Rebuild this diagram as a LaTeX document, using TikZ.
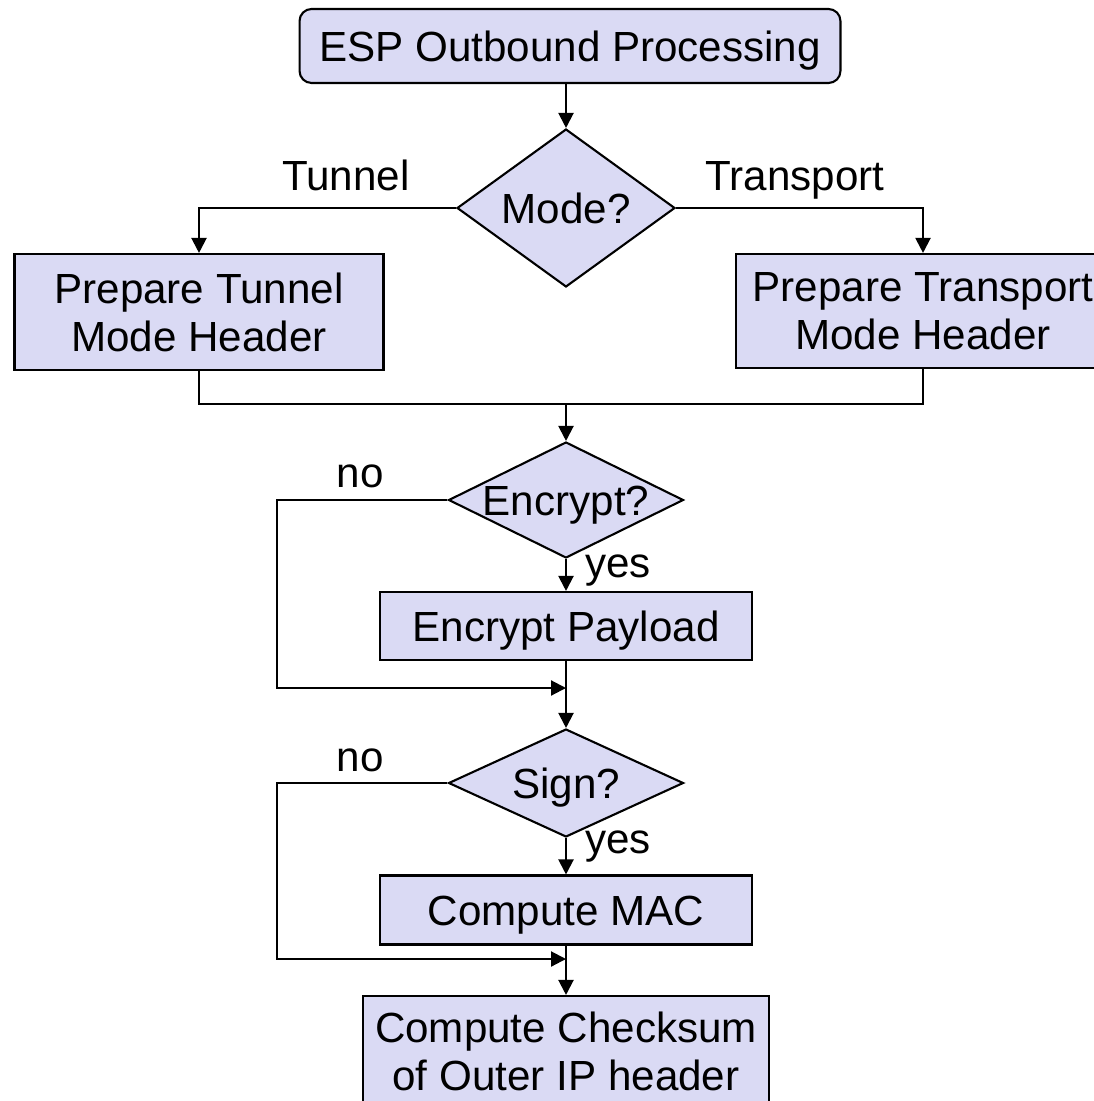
\documentclass[tikz,border=0pt]{standalone}
\usepackage{fontspec}
\setmainfont{Liberation Sans}
\usetikzlibrary{shapes.geometric,arrows.meta}
\definecolor{boxfill}{RGB}{218,218,244}

\begin{document}
\begin{tikzpicture}[x=0.02cm,y=-0.02cm,
    every node/.style={font=\fontsize{24}{27.3}\selectfont},
    captext/.style={text height=17.2pt,text depth=0pt},
    procbox/.style={draw,fill=boxfill,line width=1.2pt,align=center,inner sep=0pt},
    onebox/.style={procbox,captext},
    decision/.style={draw,fill=boxfill,diamond,line width=1.2pt,inner sep=0pt},
    flow/.style={line width=1.2pt,-{Triangle[length=0.3cm,width=0.3cm]}},
    plain/.style={line width=1.2pt},
    every label/.style={captext}]
    \useasboundingbox (0,0) rectangle (1094,1101);

    % Mode decision
    \node[onebox,rounded corners=0.24cm,minimum width=10.82cm,minimum height=1.48cm] (start) at (570,46) {ESP Outbound Processing};
    \node[decision,minimum width=4.36cm,minimum height=3.16cm,label={center:Mode?}] (mode) at (566,208) {};
    \node[procbox,minimum width=7.38cm,minimum height=2.32cm] (tunnelhdr) at (199,312) {Prepare Tunnel\\Mode Header};
    \node[procbox,minimum width=7.48cm,minimum height=2.28cm] (transphdr) at (923,311) {Prepare Transport\\Mode Header};
    \node[anchor=base] (tunnellbl) at (346,191) {Tunnel};
    \node[anchor=base] (transplbl) at (795,191) {Transport};

    \draw[flow] (mode.north |- start.south) -- (mode.north);
    \draw[flow] (mode.west) -| (tunnelhdr.north);
    \draw[flow] (mode.east) -| (transphdr.north);

    % Encryption
    \coordinate (join1) at (566,404);
    \node[decision,minimum width=4.7cm,minimum height=2.32cm,label={center:Encrypt?}] (encq) at (566,500) {};
    \node[onebox,minimum width=7.44cm,minimum height=1.36cm] (encpay) at (566,626) {Encrypt Payload};
    \node[anchor=base] (encno) at (360,487) {no};
    \node[anchor=base] (encyes) at (618,577) {yes};
    \coordinate (encbyp) at (277,688);
    \coordinate (join2) at (566,688);

    \draw[plain] (tunnelhdr.south) |- (join1);
    \draw[plain] (transphdr.south) |- (join1);
    \draw[flow] (join1) -- (encq.north);
    \draw[flow] (encq.south) -- (encpay.north);
    \draw[flow] (encq.west) -| (encbyp) -- (join2);

    % Signing
    \node[decision,minimum width=4.7cm,minimum height=2.16cm,label={center:Sign?}] (signq) at (566,783) {};
    \node[onebox,minimum width=7.44cm,minimum height=1.38cm] (mac) at (566,910) {Compute MAC};
    \node[procbox,minimum width=8.12cm,minimum height=2.2cm] (cksum) at (566,1051) {Compute Checksum\\of Outer IP header};
    \node[anchor=base] (signno) at (360,771) {no};
    \node[anchor=base] (signyes) at (618,853) {yes};
    \coordinate (signbyp) at (277,959);
    \coordinate (join3) at (566,959);

    \draw[flow] (encpay.south) -- (signq.north);
    \draw[flow] (signq.south) -- (mac.north);
    \draw[flow] (signq.west) -| (signbyp) -- (join3);
    \draw[flow] (mac.south) -- (cksum.north);
\end{tikzpicture}
\end{document}
